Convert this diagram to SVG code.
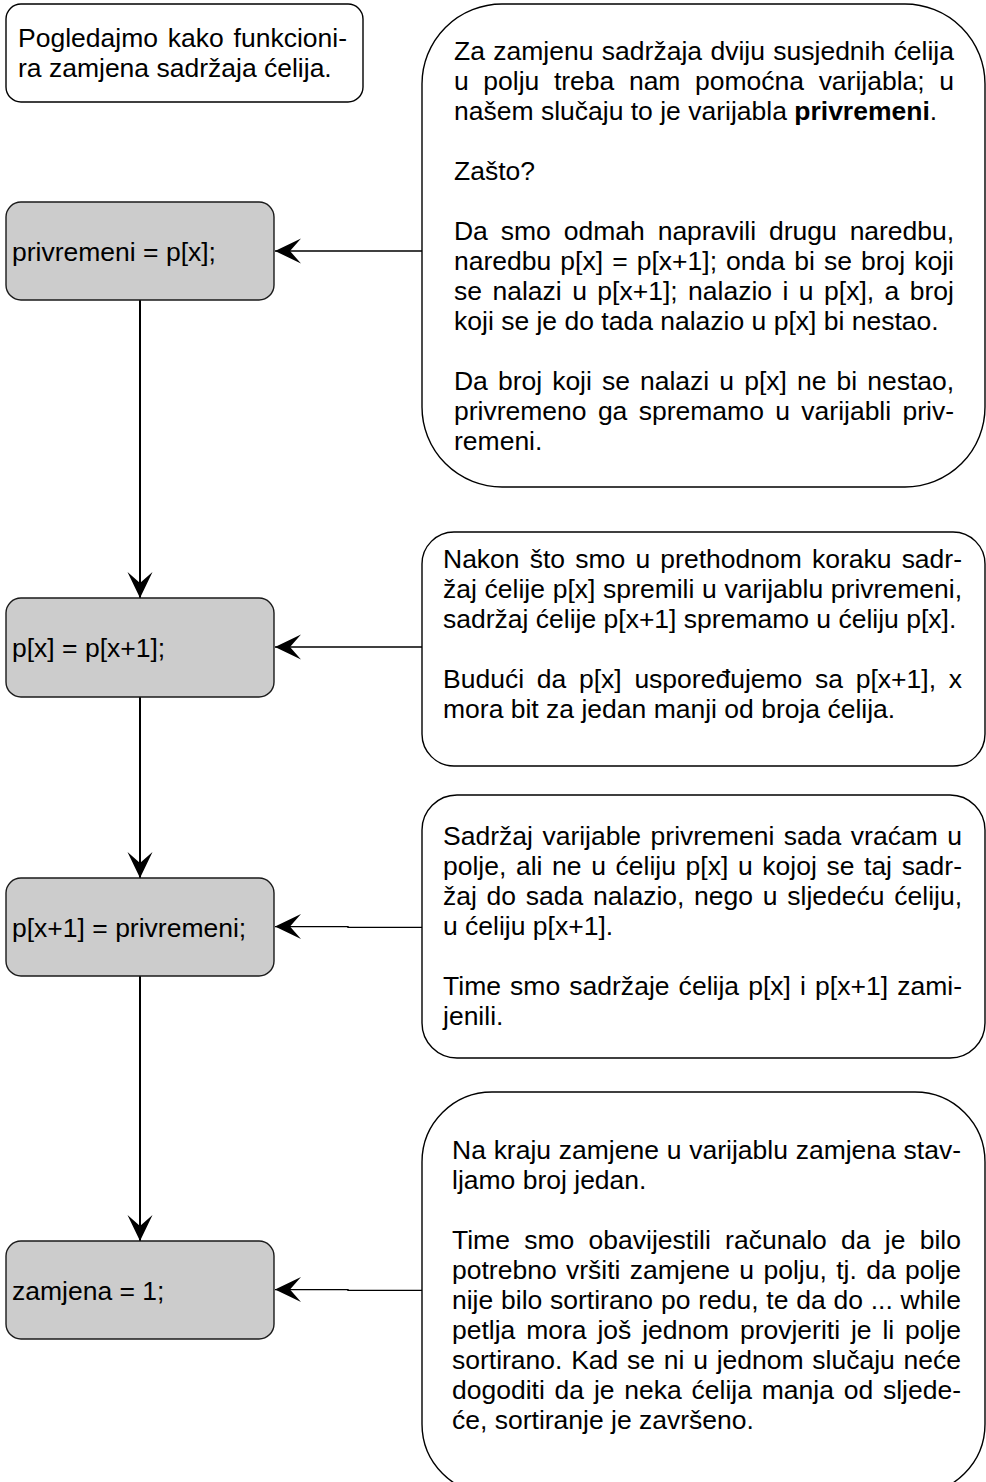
<svg xmlns="http://www.w3.org/2000/svg" width="986" height="1482" viewBox="0 0 986 1482">
  <style>
    .bg { fill: #ffffff; }
    .note { fill: #ffffff; stroke: #000000; stroke-width: 1.4; }
    .step { fill: #cccccc; stroke: #1a1a1a; stroke-width: 1.4; }
    .txt { font-family: "Liberation Sans", Arial, Helvetica, sans-serif; font-size: 26.5px; fill: #000000; }
    .b { font-weight: bold; }
    .flow { fill: none; stroke: #000000; stroke-width: 2; }
    .link { fill: none; stroke: #000000; stroke-width: 1.4; }
  </style>
  <defs>
    <marker id="head" markerUnits="userSpaceOnUse" markerWidth="30" markerHeight="28" viewBox="-28 -14 30 28" refX="0" refY="0" orient="auto" overflow="visible">
      <path d="M0,0 L-26,-12.5 L-15,0 L-26,12.5 Z" fill="#000000"/>
    </marker>
  </defs>

  <rect class="bg" x="0" y="0" width="986" height="1482"/>

  <!-- connectors -->
  <g id="connectors">
    <line class="flow" x1="140" y1="300" x2="140" y2="598" marker-end="url(#head)"/>
    <line class="flow" x1="140" y1="697" x2="140" y2="878" marker-end="url(#head)"/>
    <line class="flow" x1="140" y1="976" x2="140" y2="1241" marker-end="url(#head)"/>
    <line class="link" x1="422" y1="251" x2="275" y2="251" marker-end="url(#head)"/>
    <line class="link" x1="422" y1="647" x2="275" y2="647" marker-end="url(#head)"/>
    <polyline class="link" points="422,927.4 348,927.4 348,926.6 275,926.6" marker-end="url(#head)"/>
    <polyline class="link" points="422,1290.4 348,1290.4 348,1289.6 275,1289.6" marker-end="url(#head)"/>
  </g>

  <!-- intro note -->
  <g id="intro">
    <rect class="note" x="6" y="4" width="357" height="98" rx="15" ry="15"/>
    <text class="txt" x="18" y="47" word-spacing="2.5" textLength="329" lengthAdjust="spacing">Pogledajmo kako funkcioni-</text>
    <text class="txt" x="18" y="77">ra zamjena sadržaja ćelija.</text>
  </g>

  <!-- program steps -->
  <g id="step1">
    <rect class="step" x="6" y="202" width="268" height="98" rx="15" ry="15"/>
    <text class="txt" x="12" y="260.5">privremeni = p[x];</text>
  </g>
  <g id="step2">
    <rect class="step" x="6" y="598" width="268" height="99" rx="15" ry="15"/>
    <text class="txt" x="12" y="656.5">p[x] = p[x+1];</text>
  </g>
  <g id="step3">
    <rect class="step" x="6" y="878" width="268" height="98" rx="15" ry="15"/>
    <text class="txt" x="12" y="936.5">p[x+1] = privremeni;</text>
  </g>
  <g id="step4">
    <rect class="step" x="6" y="1241" width="268" height="98" rx="15" ry="15"/>
    <text class="txt" x="12" y="1299.5">zamjena = 1;</text>
  </g>

  <!-- explanation 1 -->
  <g id="explain1">
    <rect class="note" x="422" y="4" width="563" height="483" rx="80" ry="80"/>
    <text class="txt" x="454" y="60" word-spacing="1.04" textLength="500" lengthAdjust="spacing">Za zamjenu sadržaja dviju susjednih ćelija</text>
    <text class="txt" x="454" y="90" word-spacing="7.23" textLength="500" lengthAdjust="spacing">u polju treba nam pomoćna varijabla; u</text>
    <text class="txt" x="454" y="120">našem slučaju to je varijabla <tspan class="b">privremeni</tspan>.</text>
    <text class="txt" x="454" y="180">Zašto?</text>
    <text class="txt" x="454" y="240" word-spacing="5.74" textLength="500" lengthAdjust="spacing">Da smo odmah napravili drugu naredbu,</text>
    <text class="txt" x="454" y="270" word-spacing="1.74" textLength="500" lengthAdjust="spacing">naredbu p[x] = p[x+1]; onda bi se broj koji</text>
    <text class="txt" x="454" y="300" word-spacing="3.1" textLength="500" lengthAdjust="spacing">se nalazi u p[x+1]; nalazio i u p[x], a broj</text>
    <text class="txt" x="454" y="330">koji se je do tada nalazio u p[x] bi nestao.</text>
    <text class="txt" x="454" y="390" word-spacing="2.86" textLength="500" lengthAdjust="spacing">Da broj koji se nalazi u p[x] ne bi nestao,</text>
    <text class="txt" x="454" y="420" word-spacing="4" textLength="500" lengthAdjust="spacing">privremeno ga spremamo u varijabli priv-</text>
    <text class="txt" x="454" y="450">remeni.</text>
  </g>

  <!-- explanation 2 -->
  <g id="explain2">
    <rect class="note" x="422" y="532" width="563" height="234" rx="32" ry="32"/>
    <text class="txt" x="443" y="568" word-spacing="2.8" textLength="519" lengthAdjust="spacing">Nakon što smo u prethodnom koraku sadr-</text>
    <text class="txt" x="443" y="598" word-spacing="0.3" textLength="519" lengthAdjust="spacing">žaj ćelije p[x] spremili u varijablu privremeni,</text>
    <text class="txt" x="443" y="628">sadržaj ćelije p[x+1] spremamo u ćeliju p[x].</text>
    <text class="txt" x="443" y="688" word-spacing="5.37" textLength="519" lengthAdjust="spacing">Budući da p[x] uspoređujemo sa p[x+1], x</text>
    <text class="txt" x="443" y="718">mora bit za jedan manji od broja ćelija.</text>
  </g>

  <!-- explanation 3 -->
  <g id="explain3">
    <rect class="note" x="422" y="795" width="563" height="263" rx="35" ry="35"/>
    <text class="txt" x="443" y="845" word-spacing="2.18" textLength="519" lengthAdjust="spacing">Sadržaj varijable privremeni sada vraćam u</text>
    <text class="txt" x="443" y="875" word-spacing="2.27" textLength="519" lengthAdjust="spacing">polje, ali ne u ćeliju p[x] u kojoj se taj sadr-</text>
    <text class="txt" x="443" y="905" word-spacing="2.39" textLength="519" lengthAdjust="spacing">žaj do sada nalazio, nego u sljedeću ćeliju,</text>
    <text class="txt" x="443" y="935">u ćeliju p[x+1].</text>
    <text class="txt" x="443" y="995" word-spacing="1.67" textLength="519" lengthAdjust="spacing">Time smo sadržaje ćelija p[x] i p[x+1] zami-</text>
    <text class="txt" x="443" y="1025">jenili.</text>
  </g>

  <!-- explanation 4 -->
  <g id="explain4">
    <rect class="note" x="422" y="1092" width="563" height="402" rx="70" ry="70"/>
    <text class="txt" x="452" y="1159" word-spacing="0.4" textLength="509" lengthAdjust="spacing">Na kraju zamjene u varijablu zamjena stav-</text>
    <text class="txt" x="452" y="1189">ljamo broj jedan.</text>
    <text class="txt" x="452" y="1249" word-spacing="6.87" textLength="509" lengthAdjust="spacing">Time smo obavijestili računalo da je bilo</text>
    <text class="txt" x="452" y="1279" word-spacing="2.01" textLength="509" lengthAdjust="spacing">potrebno vršiti zamjene u polju, tj. da polje</text>
    <text class="txt" x="452" y="1309" word-spacing="0.42" textLength="509" lengthAdjust="spacing">nije bilo sortirano po redu, te da do ... while</text>
    <text class="txt" x="452" y="1339" word-spacing="3.5" textLength="509" lengthAdjust="spacing">petlja mora još jednom provjeriti je li polje</text>
    <text class="txt" x="452" y="1369" word-spacing="1.39" textLength="509" lengthAdjust="spacing">sortirano. Kad se ni u jednom slučaju neće</text>
    <text class="txt" x="452" y="1399" word-spacing="2.43" textLength="509" lengthAdjust="spacing">dogoditi da je neka ćelija manja od sljede-</text>
    <text class="txt" x="452" y="1429">će, sortiranje je završeno.</text>
  </g>
</svg>
